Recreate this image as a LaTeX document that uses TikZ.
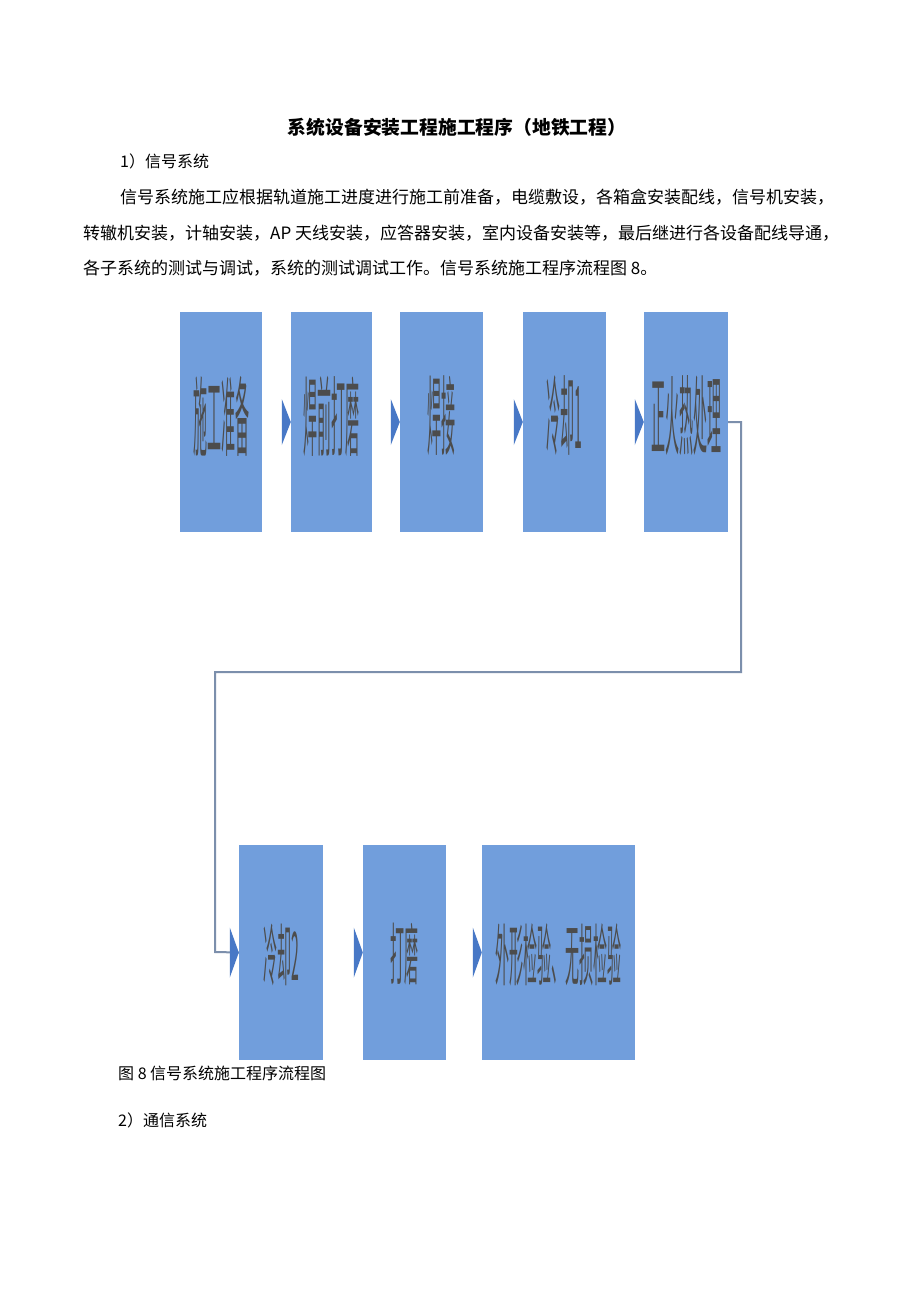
\documentclass[tikz,border=0pt]{standalone}
\usepackage{fontspec}
\setmainfont{Noto Sans CJK SC}
\usepackage{graphicx}
\usetikzlibrary{positioning}

\definecolor{stageblue}{RGB}{113,158,220}
\definecolor{tipblue}{RGB}{72,120,198}
\definecolor{wiregray}{RGB}{124,143,172}

% stretched box text: y-scale, lift, words
\newcommand{\tallword}[3]{\raisebox{#2pt}[\height][\depth]{\scalebox{1}[#1]{\fontsize{14}{14}\selectfont #3}}}

\begin{document}
\begin{tikzpicture}[x=1pt,y=-1pt,
    stage/.style={fill=stageblue, inner sep=0pt, minimum width=83pt, minimum height=220pt, text=black!70},
    lowstage/.style={stage, minimum height=215pt},
    para/.style={anchor=west, inner sep=0pt, font=\fontsize{17}{17}\selectfont},
    wire/.style={wiregray, line width=2pt}]
    \def\inarrow#1#2{\fill[tipblue] (#1.west) -- ++(-9,-#2) -- ++(0,{2*#2}) -- cycle;}

    \fill[white] (0,0) rectangle (920,1301);
    \useasboundingbox (0,0) rectangle (920,1301);

    \node[inner sep=0pt, font=\bfseries\fontsize{18.8}{18.8}\selectfont] (title) at (457,127) {系统设备安装工程施工程序（地铁工程）};
    \node[para, font=\fontsize{16}{16}\selectfont] (sec1) at (120,161) {1）信号系统};
    \node[para] (line1) at (120,197) {信号系统施工应根据轨道施工进度进行施工前准备，电缆敷设，各箱盒安装配线，信号机安装，};
    \node[para] (line2) at (83,233) {转辙机安装，计轴安装，AP 天线安装，应答器安装，室内设备安装等，最后继进行各设备配线导通，};
    \node[para] (line3) at (83,268) {各子系统的测试与调试，系统的测试调试工作。信号系统施工程序流程图 8。};

    \node[stage, minimum width=82pt] (prep) at (221,422) {\tallword{6.2}{6}{施工准备}};
    \node[stage, minimum width=81pt] (grind) at (331.5,422) {\tallword{6.2}{6}{焊前打磨}};
    \node[stage] (weld) at (441.5,422) {\tallword{6.2}{6}{焊接}};
    \node[stage] (cool1) at (564.5,422) {\tallword{6.2}{6}{冷却1}};
    \node[stage, minimum width=84pt] (heat) at (686,422) {\tallword{6.2}{6}{正火热处理}};

    \node[lowstage, minimum width=84pt] (cool2) at (281,952.5) {\tallword{4.8}{-2}{冷却2}};
    \node[lowstage] (polish) at (404.5,952.5) {\tallword{4.8}{-2}{打磨}};
    \node[lowstage, minimum width=153pt] (check) at (558.5,952.5) {\tallword{4.8}{-2}{外形检验、无损检验}};

    \draw[wire] (heat.east) -| (741,672) -| (215,952) -- (cool2.west);

    \inarrow{grind}{23}
    \inarrow{weld}{23}
    \inarrow{cool1}{23}
    \inarrow{heat}{23}
    \inarrow{cool2}{25}
    \inarrow{polish}{25}
    \inarrow{check}{25}

    \node[para, font=\fontsize{16}{16}\selectfont] (caption) at (118,1073) {图 8 信号系统施工程序流程图};
    \node[para, font=\fontsize{16}{16}\selectfont] (sec2) at (118,1120) {2）通信系统};

\end{tikzpicture}
\end{document}
